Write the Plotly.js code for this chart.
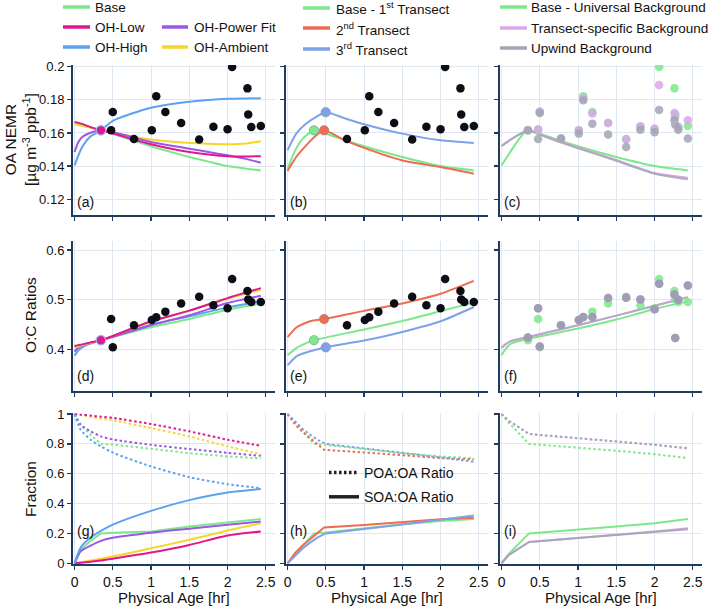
<!DOCTYPE html>
<html><head><meta charset="utf-8">
<script src="https://cdn.plot.ly/plotly-3.0.1.min.js"></script>
<style>html,body{margin:0;padding:0;background:#fff;overflow:hidden}#chart{width:710px;height:606px}</style>
</head><body><div id="chart"></div>
<script>
// ---------- Observations ----------
const obsAge = [0.345, 0.478, 0.5, 0.777, 1.01, 1.068, 1.187, 1.393, 1.629, 1.815, 2.0, 2.06, 2.26, 2.27, 2.31, 2.435];
const obsOA = [0.1616, 0.1616, 0.1727, 0.1563, 0.1616, 0.1821, 0.1727, 0.166, 0.156, 0.1637, 0.1623, 0.1998, 0.1869, 0.1711, 0.1636, 0.1642];
const obsOC = [0.4184, 0.461, 0.404, 0.4485, 0.459, 0.4645, 0.476, 0.4926, 0.506, 0.489, 0.4826, 0.542, 0.5174, 0.5007, 0.4953, 0.4953];
const oaTransectBg = [0.1616, 0.1622, 0.173, 0.1566, 0.1616, 0.181, 0.1717, 0.166, 0.1564, 0.164, 0.1627, 0.189, 0.1721, 0.1697, 0.1636, 0.1677];
const oaUpwindBg = [0.1616, 0.1564, 0.172, 0.1566, 0.1596, 0.1798, 0.1656, 0.159, 0.1515, 0.162, 0.1604, 0.1738, 0.1677, 0.165, 0.162, 0.1566];
const ocTransectBg = [0.4237, 0.4826, 0.4057, 0.4485, 0.459, 0.4652, 0.4652, 0.5033, 0.504, 0.5007, 0.4806, 0.532, 0.5107, 0.423, 0.5, 0.5288];
const ocUpwindBg = [0.4237, 0.4826, 0.4057, 0.4485, 0.459, 0.4652, 0.4652, 0.5033, 0.504, 0.5007, 0.4806, 0.532, 0.5107, 0.423, 0.5, 0.5288];

// ---------- (a) OH sensitivity, OA NEMR ----------
const ageA = [0, 0.05, 0.1, 0.2, 0.345, 0.5, 0.75, 1.0, 1.25, 1.5, 1.75, 2.0, 2.25, 2.435];
const oaBase   = [0.1665, 0.1658, 0.165, 0.1636, 0.1616, 0.1595, 0.1557, 0.152, 0.1487, 0.1455, 0.1427, 0.140, 0.1384, 0.1374];
const oaOHLow  = [0.1667, 0.1661, 0.1655, 0.1637, 0.1616, 0.1598, 0.1563, 0.1532, 0.1506, 0.1485, 0.147, 0.1459, 0.1458, 0.146];
const oaOHHigh = [0.1404, 0.1465, 0.1515, 0.1576, 0.1616, 0.1673, 0.1717, 0.1752, 0.1773, 0.1788, 0.1799, 0.1806, 0.1808, 0.1809];
const oaOHPow  = [0.1485, 0.1545, 0.1576, 0.160, 0.1616, 0.1606, 0.1575, 0.1545, 0.1525, 0.1505, 0.1485, 0.1465, 0.1442, 0.142];
const oaOHAmb  = [0.1653, 0.1648, 0.1643, 0.1632, 0.1616, 0.160, 0.158, 0.156, 0.1548, 0.154, 0.1535, 0.1532, 0.1537, 0.155];
const initAge = [0.345];
const initOA = [0.1616];
const initOC = [0.4184];

// ---------- (b) transects, OA NEMR ----------
const ageB1 = [0, 0.1, 0.2, 0.345, 0.5, 0.75, 1.0, 1.5, 2.0, 2.435];
const oaT1  = [0.1384, 0.1495, 0.1566, 0.1616, 0.1595, 0.1557, 0.152, 0.1455, 0.140, 0.1374];
const ageB2 = [0, 0.113, 0.244, 0.375, 0.478, 0.75, 1.0, 1.5, 2.0, 2.435];
const oaT2  = [0.137, 0.1455, 0.1525, 0.1586, 0.1616, 0.1555, 0.151, 0.1434, 0.1394, 0.1354];
const ageB3 = [0, 0.113, 0.244, 0.375, 0.5, 0.75, 1.0, 1.5, 2.0, 2.435];
const oaT3  = [0.1495, 0.1596, 0.1657, 0.1697, 0.1725, 0.1688, 0.1653, 0.1596, 0.1556, 0.154];
const startAgeT = [0.345, 0.478, 0.5];
const startOAT = [0.1616, 0.1616, 0.1725];
const startOCT = [0.4184, 0.461, 0.404];

// ---------- (c) background, OA NEMR ----------
const ageC1 = [0, 0.1, 0.2, 0.3, 0.345, 0.5, 0.75, 1.0, 1.5, 2.0, 2.435];
const oaUniv = [0.1404, 0.1475, 0.1545, 0.1603, 0.1616, 0.1595, 0.1557, 0.152, 0.1455, 0.140, 0.1374];
const ageC2 = [0, 0.118, 0.25, 0.345, 0.5, 0.75, 1.0, 1.5, 2.0, 2.435];
const oaTrBg = [0.1521, 0.156, 0.1596, 0.1616, 0.1592, 0.155, 0.1512, 0.1437, 0.1358, 0.133];
const oaUpBg = [0.1521, 0.156, 0.1596, 0.1616, 0.159, 0.1547, 0.1508, 0.1432, 0.1354, 0.132];

// ---------- (d) OH sensitivity, O:C ----------
const ageD = [0, 0.05, 0.1, 0.2, 0.347, 1.0, 1.5, 2.0, 2.435];
const ocBase   = [0.405, 0.4065, 0.408, 0.412, 0.4184, 0.4445, 0.461, 0.48, 0.492];
const ocOHLow  = [0.4067, 0.4085, 0.410, 0.4135, 0.4184, 0.4565, 0.478, 0.5033, 0.5234];
const ocOHHigh = [0.3873, 0.398, 0.404, 0.411, 0.4184, 0.4498, 0.4666, 0.4846, 0.4967];
const ocOHPow  = [0.3953, 0.404, 0.408, 0.4125, 0.4184, 0.4485, 0.4686, 0.4933, 0.508];
const ocOHAmb  = [0.4033, 0.406, 0.4085, 0.4125, 0.4184, 0.4555, 0.4775, 0.502, 0.52];

// ---------- (e) transects, O:C ----------
const ageE1 = [0, 0.119, 0.25, 0.345, 1.0, 1.5, 2.0, 2.435];
const ocT1  = [0.3883, 0.403, 0.413, 0.4184, 0.440, 0.457, 0.477, 0.4946];
const ageE2 = [0, 0.119, 0.294, 0.478, 1.0, 1.5, 2.0, 2.435];
const ocT2  = [0.4244, 0.4445, 0.4565, 0.461, 0.4775, 0.4925, 0.512, 0.538];
const ageE3 = [0, 0.119, 0.294, 0.5, 1.0, 1.5, 2.0, 2.435];
const ocT3  = [0.3676, 0.3863, 0.396, 0.4043, 0.4177, 0.4351, 0.4565, 0.4853];

// ---------- (f) background, O:C ----------
const ageF = [0, 0.05, 0.119, 0.347, 1.0, 1.5, 2.0, 2.435];
const ocUniv = [0.3883, 0.40, 0.411, 0.421, 0.4418, 0.46, 0.4813, 0.4967];
const ocTrBg = [0.403, 0.41, 0.4164, 0.425, 0.4485, 0.4679, 0.488, 0.5053];
const ocUpBg = [0.403, 0.41, 0.4164, 0.425, 0.4485, 0.4679, 0.488, 0.5053];

// ---------- (g) OH sensitivity, fractions ----------
const ageG = [0, 0.08, 0.21, 0.345, 0.515, 1.0, 1.5, 2.0, 2.435];
const poaBase   = [1.0, 0.93, 0.86, 0.8, 0.795, 0.765, 0.738, 0.716, 0.703];
const soaBase   = [0, 0.09, 0.15, 0.2, 0.205, 0.213, 0.246, 0.273, 0.297];
const poaOHLow  = [1.0, 0.996, 0.99, 0.982, 0.973, 0.933, 0.884, 0.828, 0.787];
const soaOHLow  = [0, 0.004, 0.01, 0.018, 0.032, 0.072, 0.123, 0.186, 0.213];
const poaOHHigh = [1.0, 0.895, 0.828, 0.783, 0.738, 0.649, 0.577, 0.53, 0.503];
const soaOHHigh = [0, 0.105, 0.172, 0.217, 0.262, 0.351, 0.423, 0.474, 0.497];
const poaOHPow  = [1.0, 0.928, 0.884, 0.85, 0.828, 0.794, 0.765, 0.74, 0.72];
const soaOHPow  = [0, 0.08, 0.118, 0.15, 0.172, 0.205, 0.232, 0.258, 0.28];
const poaOHAmb  = [1.0, 0.994, 0.982, 0.97, 0.957, 0.906, 0.85, 0.783, 0.732];
const soaOHAmb  = [0, 0.006, 0.018, 0.03, 0.047, 0.1, 0.157, 0.219, 0.268];

// ---------- (h) transects, fractions ----------
const ageH1 = [0, 0.1, 0.2, 0.345, 0.5, 1.0, 1.5, 2.0, 2.435];
const poaT1 = [1.0, 0.94, 0.88, 0.8, 0.794, 0.765, 0.738, 0.716, 0.703];
const soaT1 = [0, 0.06, 0.12, 0.2, 0.206, 0.235, 0.262, 0.284, 0.297];
const ageH2 = [0, 0.1, 0.2, 0.3, 0.4, 0.478, 1.0, 1.5, 2.0, 2.435];
const poaT2 = [1.0, 0.93, 0.88, 0.835, 0.79, 0.76, 0.743, 0.725, 0.705, 0.695];
const soaT2 = [0, 0.07, 0.12, 0.165, 0.21, 0.24, 0.257, 0.275, 0.295, 0.305];
const ageH3 = [0, 0.1, 0.2, 0.3, 0.4, 0.5, 1.0, 1.5, 2.0, 2.435];
const poaT3 = [1.0, 0.95, 0.9, 0.86, 0.825, 0.8, 0.772, 0.74, 0.709, 0.68];
const soaT3 = [0, 0.05, 0.1, 0.14, 0.175, 0.2, 0.228, 0.26, 0.291, 0.32];

// ---------- (i) background, fractions ----------
const ageI1 = [0, 0.08, 0.36, 1.0, 1.5, 2.0, 2.435];
const poaUniv = [1.0, 0.95, 0.8, 0.776, 0.754, 0.731, 0.705];
const soaUniv = [0, 0.055, 0.2, 0.224, 0.246, 0.268, 0.297];
const ageI2 = [0, 0.096, 0.36, 1.0, 1.5, 2.0, 2.435];
const poaTrBg = [1.0, 0.955, 0.866, 0.839, 0.817, 0.794, 0.768];
const soaTrBg = [0, 0.056, 0.143, 0.168, 0.19, 0.212, 0.234];
const poaUpBg = [1.0, 0.955, 0.866, 0.839, 0.817, 0.794, 0.772];
const soaUpBg = [0, 0.056, 0.143, 0.168, 0.19, 0.212, 0.228];

// ---------- legend labels ----------
const legOH = ['Base', 'OH-Low', 'OH-High', 'OH-Power Fit', 'OH-Ambient'];
const legTr = ['Base - 1<sup>st</sup> Transect', '2<sup>nd</sup> Transect', '3<sup>rd</sup> Transect'];
const legBg = ['Base - Universal Background', 'Transect-specific Background', 'Upwind Background'];
const legRatio = ['POA:OA Ratio', 'SOA:OA Ratio'];
const panelLabels = ['(a)', '(b)', '(c)', '(d)', '(e)', '(f)', '(g)', '(h)', '(i)'];

// ---------- styles ----------
const C = {
  green: '#7de88b', magenta: '#e2168f', blue: '#5ba2ef', purple: '#9b57e6', yellow: '#f5d629',
  red: '#ef6b51', blue3: '#7ea2ea', pink: '#dba6ea', gray: '#a2a6b4', black: '#0d0d16'
};
const DOT = '2.5px,2.5px';
const traces = [];
function ln(x, y, color, ax, dash, extra, shape) {
  const t = {x: x, y: y, type: 'scatter', mode: 'lines', xaxis: 'x' + ax, yaxis: 'y' + ax,
    line: {color: color, width: 2, dash: dash || 'solid', shape: shape || 'spline', smoothing: 0.6},
    showlegend: false, hoverinfo: 'skip'};
  return Object.assign(t, extra || {});
}
function pts(x, y, color, ax, size, extra) {
  const t = {x: x, y: y, type: 'scatter', mode: 'markers', xaxis: 'x' + ax, yaxis: 'y' + ax,
    marker: {color: color, size: size || 8.5}, showlegend: false, hoverinfo: 'skip'};
  return Object.assign(t, extra || {});
}
const ax = ['', '2', '3', '4', '5', '6', '7', '8', '9'];

// (a)
traces.push(ln(ageA, oaBase, C.green, '', null, {name: legOH[0]}));
traces.push(ln(ageA, oaOHAmb, C.yellow, '', null, {name: legOH[4]}));
traces.push(ln(ageA, oaOHPow, C.purple, '', null, {name: legOH[3]}));
traces.push(ln(ageA, oaOHLow, C.magenta, '', null, {name: legOH[1]}));
traces.push(ln(ageA, oaOHHigh, C.blue, '', null, {name: legOH[2]}));
traces.push(pts(obsAge, obsOA, C.black, ''));
traces.push(pts(initAge, initOA, C.magenta, '', 9.5, {marker: {color: C.magenta, size: 9.5, line: {color: '#8fc0f2', width: 1.2}}}));
// (b)
traces.push(ln(ageB1, oaT1, C.green, '2'));
traces.push(ln(ageB2, oaT2, C.red, '2'));
traces.push(ln(ageB3, oaT3, C.blue3, '2'));
traces.push(pts(obsAge, obsOA, C.black, '2'));
traces.push(pts(startAgeT, startOAT, null, '2', 9.5, {marker: {color: [C.green, C.red, C.blue3], size: 9.5, line: {color: 'rgba(140,150,170,0.7)', width: 0.8}}}));
// (c)
traces.push(ln(ageC1, oaUniv, C.green, '3'));
traces.push(ln(ageC2, oaTrBg, C.pink, '3'));
traces.push(ln(ageC2, oaUpBg, C.gray, '3', null, {opacity: 0.85}));
traces.push(pts(obsAge, obsOA, C.green, '3', 8.5, {opacity: 0.85}));
traces.push(pts(obsAge, oaTransectBg, C.pink, '3', 8.5, {opacity: 0.85}));
traces.push(pts(obsAge, oaUpwindBg, C.gray, '3', 8.5, {opacity: 0.85}));
// (d)
traces.push(ln(ageD, ocBase, C.green, '4'));
traces.push(ln(ageD, ocOHHigh, C.blue, '4'));
traces.push(ln(ageD, ocOHPow, C.purple, '4'));
traces.push(ln(ageD, ocOHAmb, C.yellow, '4'));
traces.push(ln(ageD, ocOHLow, C.magenta, '4'));
traces.push(pts(obsAge, obsOC, C.black, '4'));
traces.push(pts(initAge, initOC, C.magenta, '4', 9.5, {marker: {color: C.magenta, size: 9.5, line: {color: '#8fc0f2', width: 1.2}}}));
// (e)
traces.push(ln(ageE1, ocT1, C.green, '5'));
traces.push(ln(ageE2, ocT2, C.red, '5'));
traces.push(ln(ageE3, ocT3, C.blue3, '5'));
traces.push(pts(obsAge, obsOC, C.black, '5'));
traces.push(pts(startAgeT, startOCT, null, '5', 9.5, {marker: {color: [C.green, C.red, C.blue3], size: 9.5, line: {color: 'rgba(140,150,170,0.7)', width: 0.8}}}));
// (f)
traces.push(ln(ageF, ocUniv, C.green, '6'));
traces.push(ln(ageF, ocTrBg, C.pink, '6'));
traces.push(ln(ageF, ocUpBg, C.gray, '6', null, {opacity: 0.6}));
traces.push(pts(obsAge, obsOC, C.green, '6', 8.5, {opacity: 0.85}));
traces.push(pts(obsAge, ocTransectBg, C.pink, '6', 8.5, {opacity: 0.85}));
traces.push(pts(obsAge, ocUpwindBg, '#9c9db2', '6', 8.5, {opacity: 0.95}));
// (g)
traces.push(ln(ageG, poaBase, C.green, '7', DOT, null, 'linear'));
traces.push(ln(ageG, poaOHAmb, C.yellow, '7', DOT));
traces.push(ln(ageG, poaOHLow, C.magenta, '7', DOT));
traces.push(ln(ageG, poaOHPow, C.purple, '7', DOT));
traces.push(ln(ageG, poaOHHigh, C.blue, '7', DOT));
traces.push(ln(ageG, soaBase, C.green, '7', null, null, 'linear'));
traces.push(ln(ageG, soaOHAmb, C.yellow, '7'));
traces.push(ln(ageG, soaOHLow, C.magenta, '7'));
traces.push(ln(ageG, soaOHPow, C.purple, '7'));
traces.push(ln(ageG, soaOHHigh, C.blue, '7'));
// (h)
traces.push(ln(ageH1, poaT1, C.green, '8', DOT, null, 'linear'));
traces.push(ln(ageH2, poaT2, C.red, '8', DOT, null, 'linear'));
traces.push(ln(ageH3, poaT3, C.blue3, '8', DOT, null, 'linear'));
traces.push(ln(ageH1, soaT1, C.green, '8', null, null, 'linear'));
traces.push(ln(ageH2, soaT2, C.red, '8', null, null, 'linear'));
traces.push(ln(ageH3, soaT3, C.blue3, '8', null, null, 'linear'));
// (i)
traces.push(ln(ageI1, poaUniv, C.green, '9', DOT, null, 'linear'));
traces.push(ln(ageI2, poaTrBg, C.pink, '9', DOT, null, 'linear'));
traces.push(ln(ageI2, poaUpBg, C.gray, '9', DOT, {opacity: 0.9}, 'linear'));
traces.push(ln(ageI1, soaUniv, C.green, '9', null, null, 'linear'));
traces.push(ln(ageI2, soaTrBg, C.pink, '9', null, null, 'linear'));
traces.push(ln(ageI2, soaUpBg, C.gray, '9', null, {opacity: 0.9}, 'linear'));

// POA / SOA line-style legend (inside panel h)
traces.push({x: [null], y: [null], type: 'scatter', mode: 'lines', name: legRatio[0], legendgroup: 'poa',
  line: {color: '#222', width: 3.5, dash: DOT}, showlegend: true});
traces.push({x: [null], y: [null], type: 'scatter', mode: 'lines', name: legRatio[1], legendgroup: 'soa',
  line: {color: '#222', width: 3.5}, showlegend: true});

// ---------- layout ----------
const W = 710, H = 606;
const FONT = 'Liberation Sans, Arial, sans-serif';
const LEGFONT = 13.5;
const xDom = [[73 / W, 275 / W], [286 / W, 488 / W], [500 / W, 702 / W]];
const yDom = [[1 - 215 / H, 1 - 65 / H], [1 - 390.5 / H, 1 - 240.7 / H], [1 - 564 / H, 1 - 413.3 / H]];
const yRanges = [[0.1105, 0.201], [0.317, 0.619], [-0.005, 1.005]];
const yDtick = [0.02, 0.1, 0.2];
const axisBase = {showline: true, linecolor: '#1f3b5e', linewidth: 2, ticks: 'outside', ticklen: 4,
  tickcolor: '#1f3b5e', tickwidth: 1.3, gridcolor: '#dfe7f1', gridwidth: 1, zeroline: false,
  tickfont: {size: 13, color: '#111', family: FONT}};
const layout = {width: W, height: H, margin: {l: 0, r: 0, t: 0, b: 0}, paper_bgcolor: '#fff', plot_bgcolor: '#fff',
  font: {family: FONT, color: '#111'}, annotations: [], shapes: [], showlegend: true};
for (let r = 0; r < 3; r++) {
  for (let c = 0; c < 3; c++) {
    const i = r * 3 + c;
    const s = ax[i];
    layout['xaxis' + s] = Object.assign({}, axisBase, {domain: xDom[c], anchor: 'y' + s, range: [-0.02, 2.62],
      dtick: 0.5, tick0: 0, showticklabels: r === 2, tickfont: {size: 14, color: '#111', family: FONT}});
    layout['yaxis' + s] = Object.assign({}, axisBase, {domain: yDom[r], anchor: 'x' + s, range: yRanges[r],
      dtick: yDtick[r], tick0: 0, showticklabels: c === 0});
    const ly = [0.087, 0.097, 0.22][r];
    layout.annotations.push({xref: 'x' + s + ' domain', yref: 'y' + s + ' domain', x: 0.012, y: ly,
      xanchor: 'left', yanchor: 'middle', text: panelLabels[i], showarrow: false, font: {size: 14, color: '#111'}});
    if (r === 2) {
      layout.annotations.push({xref: 'x' + s + ' domain', yref: 'paper', x: 0.5, y: 1 - 597 / H,
        xanchor: 'center', yanchor: 'middle', text: 'Physical Age [hr]', showarrow: false, font: {size: 15, color: '#111'}});
    }
  }
}
const yTitles = [['OA NEMR<br>[µg m<sup>-3</sup> ppb<sup>-1</sup>]', 20, 140], ['O:C Ratios', 30, 315], ['Fraction', 30, 489]];
yTitles.forEach(function (t) {
  layout.annotations.push({xref: 'paper', yref: 'paper', x: t[1] / W, y: 1 - t[2] / H, xanchor: 'center', yanchor: 'middle',
    text: t[0], textangle: -90, showarrow: false, font: {size: 15.5, color: '#111'}});
});

// Top legends: line sample + text label for each entry (pixel positions in the figure)
const topLegend = [
  // [label, colour, line x0, line x1, text x, row y]
  [legOH[0], C.green, 63, 90, 93, 7],
  [legOH[1], C.magenta, 63, 90, 93, 27],
  [legOH[2], C.blue, 63, 90, 93, 47],
  [legOH[3], C.purple, 162, 188, 192, 27],
  [legOH[4], C.yellow, 162, 188, 192, 47],
  [legTr[0], C.green, 303, 330, 334, 8],
  [legTr[1], C.red, 303, 330, 334, 28],
  [legTr[2], C.blue3, 303, 330, 334, 49],
  [legBg[0], C.green, 500, 527, 529, 7],
  [legBg[1], C.pink, 500, 527, 529, 28],
  [legBg[2], C.gray, 500, 527, 529, 48]
];
topLegend.forEach(function (e) {
  layout.shapes.push({type: 'line', xref: 'paper', yref: 'paper', x0: e[2] / W, x1: e[3] / W,
    y0: 1 - e[5] / H, y1: 1 - e[5] / H, line: {color: e[1], width: 3.5}});
  layout.annotations.push({xref: 'paper', yref: 'paper', x: e[4] / W, y: 1 - (e[5] + 0.5) / H,
    xanchor: 'left', yanchor: 'middle', text: e[0], showarrow: false, font: {size: LEGFONT, color: '#111'}});
});

layout.legend = {x: 324 / W, y: 1 - 457 / H, xanchor: 'left', yanchor: 'top', xref: 'paper', yref: 'paper',
  bgcolor: 'rgba(0,0,0,0)', borderwidth: 0, font: {size: 14, color: '#111', family: FONT}, tracegroupgap: 3, itemwidth: 30};

Plotly.newPlot('chart', traces, layout, {displayModeBar: false, staticPlot: true});
</script></body></html>
